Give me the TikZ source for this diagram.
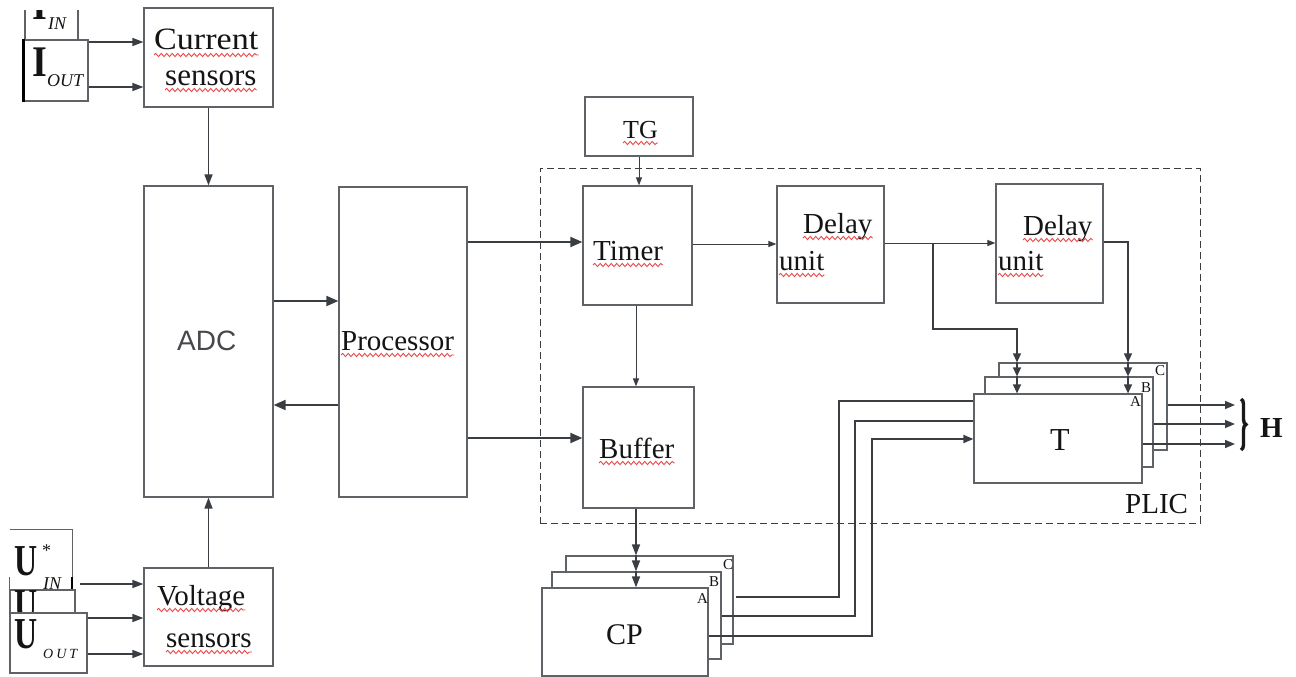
\documentclass[tikz,border=0pt]{standalone}
\usepackage{fontspec}
\setmainfont{Liberation Serif}
\newfontfamily\arialf{Liberation Sans}
\usetikzlibrary{arrows.meta,decorations.pathmorphing,decorations.pathreplacing,fit}
\definecolor{lc}{RGB}{58,62,66}
\definecolor{bc}{RGB}{95,99,104}
\definecolor{tcol}{RGB}{20,20,20}
\definecolor{wr}{RGB}{232,72,72}
\definecolor{adcc}{RGB}{70,72,75}
\newcommand\wavy[1]{\draw[wavy] ([yshift=-5pt]#1.base west) -- ([yshift=-5pt]#1.base east);}
\tikzset{
  blk/.style={draw=bc, line width=1.2pt, fill=white, inner sep=0pt},
  plicbox/.style={draw=lc, line width=0.9pt, dash pattern=on 7pt off 4pt, inner sep=0pt},
  txt/.style={inner sep=0pt, anchor=base west, text=tcol, font=\fontsize{29}{30}\selectfont},
  lbl/.style={inner sep=0pt, anchor=base west, text=tcol, font=\fontsize{15}{16}\selectfont},
  arr/.style={draw=lc, line width=1.8pt, -{Triangle[length=12pt,width=10pt]}},
  carr/.style={draw=lc, line width=1.6pt, -{Triangle[length=11pt,width=8pt]}},
  iarr/.style={draw=lc, line width=1.4pt, -{Triangle[length=11pt,width=8pt]}},
  thinarr/.style={draw=lc, line width=1pt, -{Triangle[length=8pt,width=6pt]}},
  tarr/.style={draw=lc, line width=1.2pt, -{Triangle[length=9pt,width=8pt]}},
  ln/.style={draw=lc, line width=1.8pt},
  larr/.style={draw=lc, line width=1.8pt, -{Triangle[length=10pt,width=8pt]}},
  harr/.style={draw=lc, line width=1.6pt, -{Triangle[length=10pt,width=8pt]}},
  wavy/.style={draw=wr, line width=0.9pt, decorate, decoration={snake, amplitude=1.6pt, segment length=5.5pt}},
}
\begin{document}
\begin{tikzpicture}[x=1pt,y=-1pt]
\useasboundingbox (0,0) rectangle (1296,677);
\fill[white] (0,0) rectangle (1296,677);
\clip (0,0) rectangle (1296,677);

% PLIC dashed frame
\node[plicbox, fit={(540,168) (1200,523)}] (plic) {};
\node[txt] (plict) at (1125,513) {PLIC};

% ---- current inputs
\begin{scope}
  \clip (0,10.5) rectangle (120,40);
  \node[blk, fit={(25,-30) (78,40)}] (iin) {};
  \node[txt, font=\fontsize{38}{38}\bfseries] (iint) at (32,20) {\scalebox{1}[1.15]{I}};
\end{scope}
\node[txt, font=\fontsize{18}{18}\itshape] (iinsub) at (48,30) {IN};
\node[blk, fit={(24,40) (88,101)}] (iout) {};
\draw[black, line width=2.6pt] (iout.north west) -- (iout.south west);
\node[txt, font=\fontsize{38}{38}\bfseries] (ioutt) at (32,77) {\scalebox{1}[1.15]{I}};
\node[txt, font=\fontsize{18}{18}\itshape] (ioutsub) at (47,87) {OUT};

% ---- voltage inputs
\node[inner sep=0pt, fit={(10,530) (72,590)}] (uin) {};
\draw[bc, line width=1.2pt] ([yshift=13pt]uin.south west) -- (uin.south west) -- (uin.south east) -- (uin.north east) -- (uin.north west);
\draw[black, line width=2pt] ([yshift=13pt]uin.south east) -- (uin.south east);
\node[txt, font=\fontsize{32}{32}\bfseries] (uint) at (14,575) {\scalebox{1}[1.38]{U}};
\node[txt, font=\fontsize{18}{18}\selectfont] (ustar) at (42,556) {*};
\node[txt, font=\fontsize{18}{18}\itshape] (uinsub) at (43,589) {IN};
\node[blk, fit={(10,590) (75,613)}] (umid) {};
\node[txt, font=\fontsize{32}{32}\bfseries] (umidt) at (14,619) {\scalebox{1}[1.38]{U}};
\node[blk, fit={(10,613) (87,673)}] (uout) {};
\node[txt, font=\fontsize{32}{32}\bfseries] (uoutt) at (14,648) {\scalebox{1}[1.38]{U}};
\node[txt, font=\fontsize{14}{14}\itshape] (uoutsub) at (43,658) {O\kern3pt U\kern3pt T};

% ---- main blocks
\node[blk, fit={(144,8) (273,107)}] (cs) {};
\node[blk, fit={(144,186) (273,497)}] (adc) {};
\node[blk, fit={(339,187) (467,497)}] (proc) {};
\node[blk, fit={(144,568) (273,666)}] (vs) {};
\node[blk, fit={(585,97) (693,156)}] (tg) {};
\node[blk, fit={(583,186) (692,305)}] (timer) {};
\node[blk, fit={(583,387) (694,508)}] (buf) {};
\node[blk, fit={(777,186) (884,303)}] (d1) {};
\node[blk, fit={(996,184) (1103,303)}] (d2) {};
% T stack
\node[blk, fit={(999,363) (1167,450)}] (tc) {};
\node[blk, fit={(985,377) (1153,467)}] (tb) {};
\node[blk, fit={(974,394) (1142,483)}] (ta) {};
% CP stack
\node[blk, fit={(566,556) (733,644)}] (cpc) {};
\node[blk, fit={(552,572) (721,659)}] (cpb) {};
\node[blk, fit={(542,588) (708,676)}] (cpa) {};

% ---- texts
\node[txt, font=\fontsize{31}{31}\selectfont] (t1) at (154,50) {\scalebox{1.1}[1]{Current}};
\node[txt, font=\fontsize{31}{31}\selectfont] (t2) at (165,85) {sensors};
\node[txt, font=\fontsize{28}{28}\arialf, text=adcc] (tadc) at (177,350) {ADC};
\node[txt] (tproc) at (341,350) {Processor};
\node[txt, font=\fontsize{26}{26}\selectfont] (ttg) at (623,138) {TG};
\node[txt] (ttim) at (593,260) {Timer};
\node[txt] (tbuf) at (599,458) {Buffer};
\node[txt] (td1a) at (803,233) {Delay};
\node[txt] (td1b) at (779,270) {unit};
\node[txt] (td2a) at (1023,235) {Delay};
\node[txt] (td2b) at (998,270) {unit};
\node[txt] (tv1) at (157,605) {Voltage};
\node[txt] (tv2) at (166,647) {sensors};
\node[txt, font=\fontsize{32}{32}\selectfont] (tt) at (1050,450) {T};
\node[txt, font=\fontsize{30}{30}\selectfont] (tcp) at (606,644) {CP};
\node[txt, font=\fontsize{29}{29}\bfseries] (th) at (1260,437) {H};
\node[lbl] (la) at (1130,406) {A};
\node[lbl] (lb) at (1141,392) {B};
\node[lbl] (lcc) at (1155,375) {C};
\node[lbl] (cla) at (697,603) {A};
\node[lbl] (clb) at (709,586) {B};
\node[lbl] (clc) at (723,569) {C};
\wavy{t1}\wavy{t2}\wavy{tproc}\wavy{ttg}\wavy{ttim}\wavy{tbuf}
\wavy{td1a}\wavy{td1b}\wavy{td2a}\wavy{td2b}\wavy{tv1}\wavy{tv2}

% ---- connectors
\draw[iarr] (iout.east |- 0,42) -- (cs.west |- 0,42);
\draw[iarr] (iout.east |- 0,87) -- (cs.west |- 0,87);
\coordinate (uinend) at (80,584);
\draw[iarr] (uinend) -- (vs.west |- uinend);
\draw[iarr] (uout.east |- 0,618) -- (vs.west |- 0,618);
\draw[iarr] (uout.east |- 0,654) -- (vs.west |- 0,654);
\draw[carr] (cs.south) -- (adc.north);
\draw[carr] (vs.north) -- (adc.south);
\draw[arr] (adc.east |- 0,301) -- (proc.west |- 0,301);
\draw[arr] (proc.west |- 0,405) -- (adc.east |- 0,405);
\draw[arr] (proc.east |- 0,242) -- (timer.west |- 0,242);
\draw[arr] (proc.east |- 0,438) -- (buf.west |- 0,438);
\draw[thinarr] (tg.south -| 639,0) -- (timer.north -| 639,0);
\draw[thinarr] (timer.south -| 636,0) -- (buf.north -| 636,0);
\draw[thinarr] (timer.east |- 0,244) -- (d1.west |- 0,244);
\draw[thinarr] (d1.east |- 0,243) -- (d2.west |- 0,243);
\coordinate (br) at (933,243);
\coordinate (bend) at (1017,329);
\draw[tarr] (br) |- (bend) -- (tc.north -| bend);
\draw[tarr] (tc.north -| bend) -- (tb.north -| bend);
\draw[tarr] (tb.north -| bend) -- (ta.north -| bend);
\coordinate (d2c) at (1128,242);
\draw[tarr] (d2.east |- d2c) -- (d2c) -- (tc.north -| d2c);
\draw[tarr] (tc.north -| d2c) -- (tb.north -| d2c);
\draw[tarr] (tb.north -| d2c) -- (ta.north -| d2c);
% outputs H
\coordinate (h1) at (1235,405);
\coordinate (h2) at (1235,424);
\coordinate (h3) at (1235,444);
\draw[harr] (tc.east |- h1) -- (h1);
\draw[harr] (tb.east |- h2) -- (h2);
\draw[harr] (ta.east |- h3) -- (h3);
\draw[decorate, decoration={brace, amplitude=5pt}, line width=3.4pt, draw=black!90] (1241,399) -- (1241,450);
% buffer to CP
\coordinate (cpx) at (636,0);
\draw[carr] (buf.south -| cpx) -- (cpc.north -| cpx);
\draw[carr] (cpc.north -| cpx) -- (cpb.north -| cpx);
\draw[carr] (cpb.north -| cpx) -- (cpa.north -| cpx);
% CP to T
\coordinate (v1) at (839,401);
\coordinate (v2) at (855,421);
\coordinate (v3) at (872,439);
\draw[ln] ([xshift=2pt]cpc.east |- 0,597) -| (v1) -- (ta.west |- v1);
\draw[ln] (cpb.east |- 0,616) -| (v2) -- (ta.west |- v2);
\draw[larr] (cpa.east |- 0,636) -| (v3) -- (ta.west |- v3);
\end{tikzpicture}
\end{document}
